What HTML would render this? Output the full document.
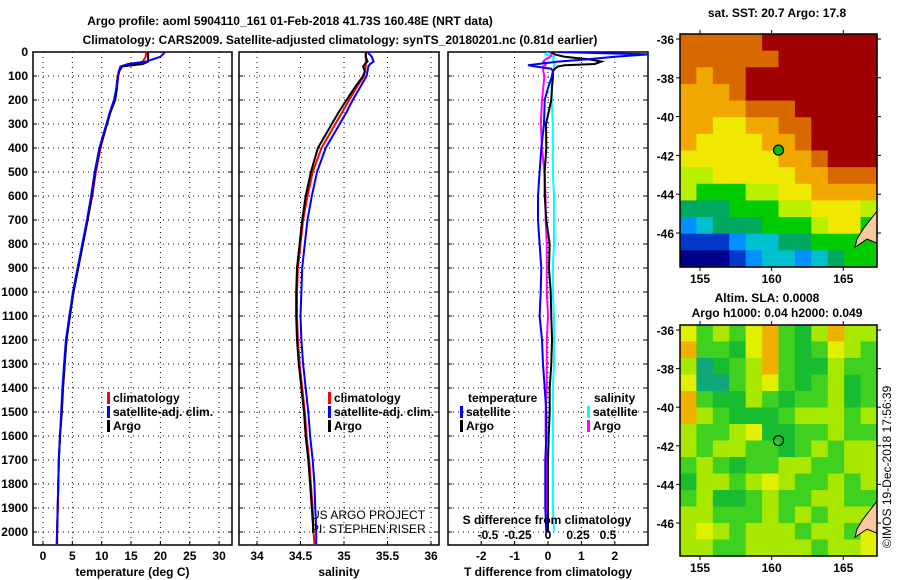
<!DOCTYPE html>
<html><head><meta charset="utf-8"><style>
html,body{margin:0;padding:0;background:#fff;width:900px;height:580px;overflow:hidden}
svg{display:block}
text{font-family:"Liberation Sans",sans-serif;font-weight:bold;font-size:12px;fill:#000}
text.nb{font-weight:normal}
</style></head><body>
<svg id="fig" width="900" height="580" viewBox="0 0 900 580">
<text x="290" y="25" text-anchor="middle" font-size="14">Argo profile: aoml 5904110_161 01-Feb-2018 41.73S 160.48E (NRT data)</text>
<text x="340" y="44" text-anchor="middle" font-size="14">Climatology: CARS2009. Satellite-adjusted climatology: synTS_20180201.nc (0.81d earlier)</text>
<text x="777" y="17" text-anchor="middle">sat. SST: 20.7 Argo: 17.8</text>
<text x="767" y="302" text-anchor="middle">Altim. SLA: 0.0008</text>
<text x="777" y="317" text-anchor="middle">Argo h1000: 0.04 h2000: 0.049</text>
<text class="nb" transform="translate(891,548) rotate(-90)" font-size="12">©IMOS 19-Dec-2018 17:56:39</text>
<g id="layer"></g>
</svg>
<script>
// ---- profile data ----
const depths=[0,20,40,50,60,80,100,150,200,250,300,400,500,600,700,800,900,1000,1100,1200,1300,1400,1500,1600,1700,1800,1900,2000,2050];
const tempArgo=[17.9,17.9,17.9,17.0,13.5,13.0,12.8,12.6,12.3,11.5,10.9,9.7,8.9,8.3,7.6,6.8,6.0,5.2,4.6,4.0,3.7,3.4,3.2,2.9,2.7,2.6,2.5,2.4,null];
const tempClim=[17.6,17.5,17.0,15.5,13.5,13.0,12.7,12.5,12.2,11.5,10.9,9.8,9.0,8.4,7.6,6.8,6.0,5.2,4.5,4.0,3.7,3.4,3.2,2.9,2.7,2.6,2.5,2.4,2.3];
const tempSat=[20.8,20.0,17.5,14.5,13.2,12.9,12.8,12.5,12.1,11.4,10.8,9.6,8.8,8.2,7.5,6.7,5.9,5.1,4.5,3.9,3.6,3.3,3.1,2.9,2.7,2.6,2.5,2.4,2.4];
const salArgo=[35.25,35.25,35.27,35.24,35.22,35.24,35.22,35.12,35.03,34.94,34.86,34.70,34.62,34.56,34.52,34.49,34.46,34.45,34.45,34.46,34.48,34.51,34.54,34.56,34.59,34.61,34.63,34.65,null];
const salClim=[35.25,35.25,35.25,35.25,35.25,35.24,35.23,35.14,35.06,34.98,34.90,34.74,34.64,34.58,34.53,34.50,34.47,34.46,34.46,34.47,34.49,34.52,34.55,34.57,34.60,34.62,34.64,34.65,34.66];
const salSat=[35.27,35.32,35.34,35.30,35.28,35.27,35.26,35.18,35.10,35.03,34.95,34.79,34.69,34.63,34.58,34.55,34.52,34.51,34.50,34.51,34.53,34.56,34.59,34.61,34.64,34.66,34.67,34.68,34.68];
const diffDepths=[0,10,20,30,40,50,55,60,70,80,100,150,200,300,400,500,600,700,800,900,1000,1100,1200,1300,1400,1500,1600,1700,1800,1900,2000];
const tDiffArgo=[0.1,0.2,0.5,1.2,1.6,1.4,0.5,0.3,0.2,0.15,0.15,0.12,0.1,-0.06,-0.05,-0.1,-0.1,-0.05,0.05,0.03,0.08,0.1,0.12,0.1,0.05,0.05,0.02,0,0,0,0];
const tDiffSat=[0.3,3.0,2.0,1.2,0.3,-0.3,-0.6,-0.4,0.1,0.15,0.12,0.0,-0.1,-0.12,-0.2,-0.25,-0.3,-0.3,-0.25,-0.2,-0.22,-0.25,-0.18,-0.15,-0.1,-0.05,-0.05,-0.08,-0.08,-0.08,-0.05];
const sDiffSat=[0,-0.02,0.05,0.04,0.05,0.05,0.06,0.05,0.05,0.04,0.03,0.03,0.03,0.04,0.04,0.04,0.05,0.05,0.05,0.04,0.04,0.05,0.05,0.05,0.04,0.04,0.04,0.04,0.04,0.04,0.05];
const sDiffArgo=[0.02,0.03,0.02,-0.02,-0.04,-0.02,-0.02,-0.04,-0.04,-0.04,-0.03,-0.04,-0.05,-0.06,-0.05,-0.03,-0.02,-0.02,-0.01,-0.01,-0.01,0,-0.01,-0.01,-0.01,-0.02,-0.02,-0.01,-0.01,-0.01,0];
const depthTicks=[0,100,200,300,400,500,600,700,800,900,1000,1100,1200,1300,1400,1500,1600,1700,1800,1900,2000];
const tempTicks=[0,5,10,15,20,25,30];
const salTicks=[34,34.5,35,35.5,36];
const tDiffTicks=[-2,-1,0,1,2];
const sDiffTicks=[-0.5,-0.25,0,0.25,0.5];
// ---- map data (value levels) ----
const sstGrid=[
[9,9,9,9,9,10,10,10,10,10,10,10],
[9,9,9,9,9,9,10,10,10,10,10,10],
[9,8,9,9,10,10,10,10,10,10,10,10],
[8,8,8,9,10,10,10,10,10,10,10,10],
[8,8,8,8,9,9,9,10,10,10,10,10],
[8,8,7,7,8,8,9,9,10,10,10,10],
[8,7,7,7,7,8,8,9,10,10,10,10],
[7,7,7,7,7,7,8,8,9,10,10,10],
[6,6,7,7,7,7,7,8,8,9,9,9],
[6,5,5,5,6,6,7,7,8,8,8,8],
[4,4,4,5,5,5,6,6,7,7,7,6],
[2,3,4,4,4,5,5,5,6,7,7,5],
[1,1,1,2,3,3,4,4,5,5,5,5],
[0,0,0,1,2,3,3,2,3,4,5,5]];
const slaGrid=[
[4,2,3,2,4,5,2,1,3,5,3,3],
[5,2,2,1,4,5,2,1,2,4,3,2],
[3,0,1,2,3,5,2,1,1,3,2,2],
[4,0,0,2,3,4,2,1,2,3,1,2],
[5,2,1,1,3,2,1,2,2,3,1,2],
[5,3,2,1,1,1,2,3,3,3,2,3],
[3,2,2,3,4,1,1,2,2,3,2,2],
[3,2,3,3,2,2,1,2,3,2,3,3],
[2,3,2,1,2,2,3,3,2,2,3,3],
[1,3,3,2,3,4,3,2,2,3,2,3],
[2,3,1,1,2,3,2,2,3,3,2,2],
[3,3,2,2,2,3,2,3,2,3,3,3],
[3,4,3,2,3,3,3,2,3,3,2,4],
[3,3,2,2,3,3,3,3,2,3,3,4]];
const lonTicks=[155,160,165];
const latTicks=[-36,-38,-40,-42,-44,-46];
const argoLon=160.48, argoLat=-41.73;

const NS='http://www.w3.org/2000/svg';
const L=document.getElementById('layer');
function mk(tag,at,parent){const e=document.createElementNS(NS,tag);for(const k in at)e.setAttribute(k,at[k]);(parent||L).appendChild(e);return e;}
const yD=d=>52+d*0.24;
const Y0=52,Y1=545;
const panels=[
 {x0:33,x1:232,sx:v=>43+v*5.87,ticks:tempTicks,title:'temperature (deg C)',name:'temperature'},
 {x0:239,x1:439,sx:v=>257+(v-34)*87,ticks:salTicks,title:'salinity',name:'salinity'},
 {x0:448,x1:648,sx:v=>548+v*33.4,ticks:tDiffTicks,title:'T difference from climatology',name:'difference'}];
const sxS=v=>548+v*120;
panels.forEach((p,pi)=>{
  const g=mk('g',{});
  
  
  depthTicks.forEach(d=>{
    const y=yD(d);
    if(d>0){const gl=mk('line',{x1:p.x0,x2:p.x1,y1:y,y2:y,stroke:'#000','stroke-width':1,'stroke-dasharray':'1,4'},g);
    
    }
    mk('line',{x1:p.x0,x2:p.x0+4,y1:y,y2:y,stroke:'#000'},g);
    mk('line',{x1:p.x1-4,x2:p.x1,y1:y,y2:y,stroke:'#000'},g);
    if(pi===0){const t=mk('text',{x:28,y:y+4,'text-anchor':'end'},g);t.textContent=d;
      
      }
  });
  p.ticks.forEach(v=>{
    const x=p.sx(v);
    const gl=mk('line',{x1:x,x2:x,y1:Y0,y2:Y1,stroke:'#000','stroke-width':1,'stroke-dasharray':'1,4'},g);
    
    
    mk('line',{x1:x,x2:x,y1:Y1,y2:Y1-4,stroke:'#000'},g);
    const t=mk('text',{x:x,y:560,'text-anchor':'middle'},g);t.textContent=v;
    
    
  });
  const t=mk('text',{x:(p.x0+p.x1)/2,y:576,'text-anchor':'middle'},g);t.textContent=p.title;
  
  
  const fr=mk('rect',{x:p.x0,y:Y0,width:p.x1-p.x0,height:Y1-Y0,fill:'none',stroke:'#000','stroke-width':1.5},g);
  
  
});
function clipFor(p,id){const c=mk('clipPath',{id:id});mk('rect',{x:p.x0,y:Y0,width:p.x1-p.x0,height:Y1-Y0},c);return 'url(#'+id+')';}
function line(ds,vals,sx,color,name,clip){
  let pts=[];ds.forEach((d,i)=>{if(vals[i]!==null)pts.push(sx(vals[i]).toFixed(1)+','+yD(d).toFixed(1));});
  const e=mk('polyline',{points:pts.join(' '),fill:'none',stroke:color,'stroke-width':2,'clip-path':clip});
  
  
}
const c0=clipFor(panels[0],'c0'),c1=clipFor(panels[1],'c1'),c2=clipFor(panels[2],'c2');
line(depths,tempClim,panels[0].sx,'#ff0000','temp-climatology-line',c0);
line(depths,tempArgo,panels[0].sx,'#000','temp-argo-line',c0);
line(depths,tempSat,panels[0].sx,'#0000ff','temp-satellite-line',c0);
line(depths,salClim,panels[1].sx,'#ff0000','sal-climatology-line',c1);
line(depths,salArgo,panels[1].sx,'#000','sal-argo-line',c1);
line(depths,salSat,panels[1].sx,'#0000ff','sal-satellite-line',c1);
line(diffDepths,sDiffSat,sxS,'#00ffff','sdiff-satellite-line',c2);
line(diffDepths,sDiffArgo,sxS,'#ff00ff','sdiff-argo-line',c2);
line(diffDepths,tDiffArgo,panels[2].sx,'#000','tdiff-argo-line',c2);
line(diffDepths,tDiffSat,panels[2].sx,'#0000ff','tdiff-satellite-line',c2);
function leg(x,y,color,label){
  const r=mk('rect',{x:x,y:y-10,width:3,height:12,fill:color});
  
  
  const t=mk('text',{x:x+6,y:y});t.textContent=label;
  
  
}
leg(107,402,'#ff0000','climatology');leg(107,416,'#0000ff','satellite-adj. clim.');leg(107,430,'#000','Argo');
leg(328,402,'#ff0000','climatology');leg(328,416,'#0000ff','satellite-adj. clim.');leg(328,430,'#000','Argo');
let tt=mk('text',{x:468,y:402});tt.textContent='temperature';


leg(460,416,'#0000ff','satellite');leg(460,430,'#000','Argo');
tt=mk('text',{x:594,y:402});tt.textContent='salinity';


leg(587,416,'#00ffff','satellite');leg(587,430,'#ff00ff','Argo');
// credits
const cc=mk('clipPath',{id:'cc'});mk('rect',{x:240,y:Y0,width:199,height:Y1-Y0},cc);
tt=mk('text',{x:311,y:519,'class':'nb','clip-path':'url(#cc)'});tt.textContent='US ARGO PROJECT';


tt=mk('text',{x:311,y:533,'class':'nb','clip-path':'url(#cc)'});tt.textContent='PI: STEPHEN RISER';


tt=mk('text',{x:547,y:524,'text-anchor':'middle'});tt.textContent='S difference from climatology';


sDiffTicks.forEach(v=>{const t=mk('text',{x:sxS(v),y:539,'text-anchor':'middle'});t.textContent=String(v);
  
  });
// ---- maps ----
const sstColors=['#00008c','#0038c8','#0090ff','#00c0d0','#00a860','#00cc00','#b8f000','#f0e800','#f0a800','#d86800','#a00000'];
const slaColors=['#10a878','#18bc30','#40d020','#a8e800','#e0f000','#f0b000'];
const MX0=680,MX1=877,lonX=v=>700+(v-155)*14.33;
function drawMap(grid,colors,top,bot,latY,name){
  const g=mk('g',{});
  
  
  const rows=grid.length,cols=grid[0].length,cw=(MX1-MX0)/cols,ch=(bot-top)/rows;
  grid.forEach((row,r)=>row.forEach((v,c)=>{
    mk('rect',{x:MX0+c*cw,y:top+r*ch,width:cw+0.6,height:ch+0.6,fill:colors[v]},g);
  }));
  const ly=latY(-45.8);
  mk('path',{d:`M${MX1},${ly-18} L${MX1-14},${ly} L${MX1-20},${ly+10} L${MX1-22},${ly+18} L${MX1-10},${ly+10} L${MX1},${ly+14} Z`,fill:'#f8c8a0',stroke:'#000','stroke-width':1},g);
  const m=mk('circle',{cx:lonX(argoLon),cy:latY(argoLat),r:5,fill:name==='sst-map'?'#00c000':'none',stroke:'#000','stroke-width':1.2},g);
  
  
  mk('rect',{x:MX0,y:top,width:MX1-MX0,height:bot-top,fill:'none',stroke:'#000','stroke-width':1.5},g);
  lonTicks.forEach(v=>{const x=lonX(v);mk('line',{x1:x,x2:x,y1:bot,y2:bot+4,stroke:'#000'},g);mk('line',{x1:x,x2:x,y1:top,y2:top-4,stroke:'#000'},g);
    const t=mk('text',{x:x,y:bot+16,'text-anchor':'middle'},g);t.textContent=v;
    
    });
  latTicks.forEach(v=>{const y=latY(v);mk('line',{x1:MX0-4,x2:MX0,y1:y,y2:y,stroke:'#000'},g);mk('line',{x1:MX1,x2:MX1+4,y1:y,y2:y,stroke:'#000'},g);
    const t=mk('text',{x:674,y:y+5,'text-anchor':'end'},g);t.textContent=v;
    
    });
}
drawMap(sstGrid,sstColors,34,267,v=>39+(-36-v)*19.4,'sst-map');
drawMap(slaGrid,slaColors,325,556,v=>330+(-36-v)*19.3,'sla-map');
</script>
</body></html>
